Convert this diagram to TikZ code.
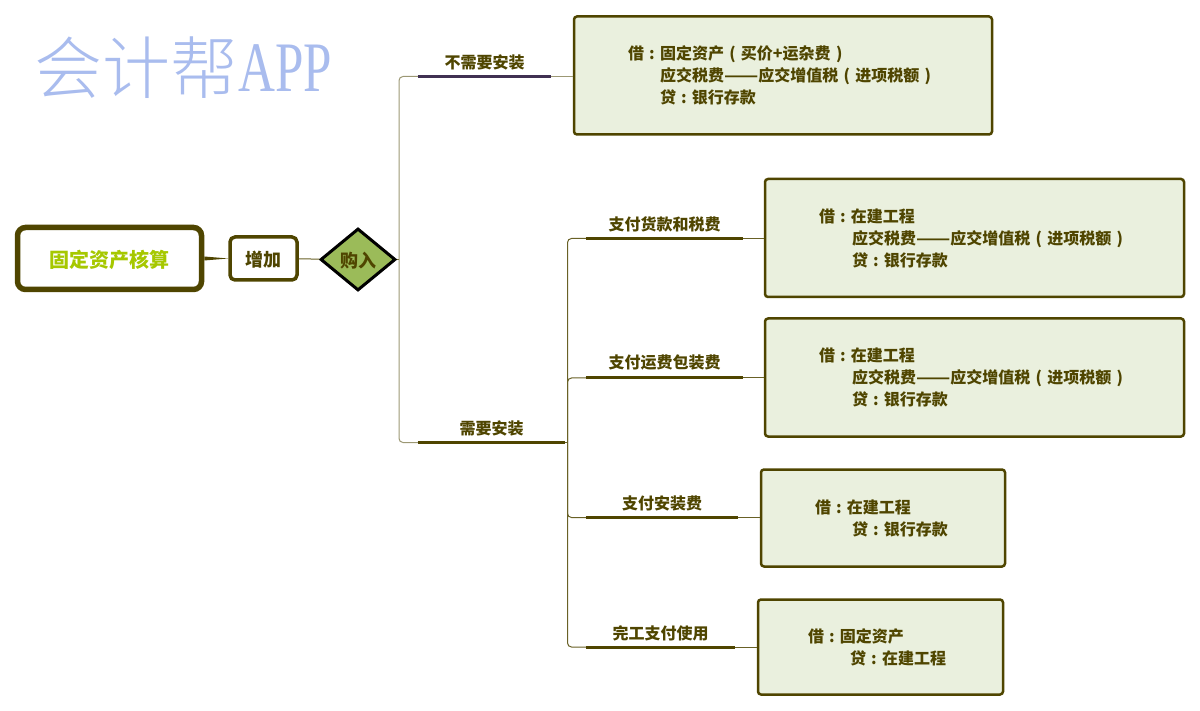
\documentclass[tikz,border=0pt]{standalone}
\usepackage{fontspec}
\setmainfont{Noto Sans CJK SC}
\newfontfamily\markfont{Noto Sans CJK SC Light}
\newfontfamily\marklatin{Liberation Serif}
\usetikzlibrary{shapes.geometric,calc}
\definecolor{olive}{HTML}{4F4500}
\definecolor{paleline}{HTML}{9C9874}
\definecolor{boxfill}{HTML}{EAF0DE}
\definecolor{leaf}{HTML}{9BBB59}
\definecolor{limetext}{HTML}{A6C800}
\definecolor{plum}{HTML}{403152}
\definecolor{markblue}{HTML}{A9BCEE}
\newcommand{\zw}[1]{\makebox[16pt]{#1}}
\newcommand{\zp}[1]{\makebox[17pt]{#1}}
\newcommand{\longdash}{\scalebox{1.25}[1]{——}}
\newcommand{\nudge}[2]{\raisebox{#1}[\height][\depth]{#2}}
\tikzset{
  rootbox/.style={draw=olive,line width=5.5pt,rounded corners=8pt,fill=white,minimum width=184pt,minimum height=62pt,inner sep=0pt,text=limetext,font=\fontsize{20}{22}\selectfont\bfseries},
  addbox/.style={draw=olive,line width=3.5pt,rounded corners=5pt,fill=white,minimum width=67pt,minimum height=43pt,inner sep=0pt,text=olive,font=\fontsize{18}{22}\selectfont\bfseries},
  choice/.style={diamond,draw=black,line width=3pt,fill=leaf,minimum width=75pt,minimum height=62pt,inner sep=0pt,text=olive,font=\fontsize{18}{22}\selectfont\bfseries},
  branch/.style={minimum height=27pt,inner sep=0pt,anchor=south,text=olive,font=\fontsize{16}{22}\selectfont\bfseries},
  entry/.style={draw=olive,line width=2.5pt,rounded corners=3pt,fill=boxfill,inner ysep=0pt,text=olive,align=left,font=\fontsize{16}{22}\selectfont\bfseries},
  thick line/.style={line width=3pt,olive},
  thin line/.style={line width=1pt,paleline},
  dark line/.style={line width=1pt,olive!85}
}
\begin{document}
\begin{tikzpicture}[x=1pt,y=-1pt]
  \useasboundingbox (0,0) rectangle (1200,711);
  \node[anchor=base west,inner sep=0pt,text=markblue,font=\fontsize{68}{70}\selectfont] (mark) at (34,94) {\markfont 会计帮\marklatin\raisebox{2pt}{\scalebox{.72}[1]{\fontsize{71}{70}\selectfont APP}}};

  \node[rootbox] (root) at (109.5,258.5) {\nudge{-1pt}{固定资产核算}};
  \node[addbox] (add) at (263.5,258.5) {\nudge{-1.5pt}{增加}};
  \node[choice] (buy) at (358,259.5) {\nudge{-1pt}{购入}};
  \coordinate (spineA) at (399,259.5);
  \coordinate (spineB) at (567.5,442.5);

  \node[branch,minimum width=133pt] (plain) at (484.5,76.5) {不需要安装};
  \node[branch,minimum width=147pt] (setup) at (491.5,442.5) {需要安装};
  \node[entry,minimum width=418pt,minimum height=118pt,text width=364pt,inner xsep=27pt] (plainbox) at (783,75.5) {
    \hspace*{27pt}借\zw{:}固定资产\zp{(}买价+运杂费\zp{)}\\
    \hspace*{59pt}应交税费\longdash 应交增值税\zp{(}进项税额\zp{)}\\
    \hspace*{59pt}贷\zw{:}银行存款};

  \fill[olive] ($(root.east)+(0,-2)$) -- (add.west) -- ($(root.east)+(0,2)$) -- cycle;
  \draw[dark line] (add) -- (buy);
  \draw[dark line] (buy) -- (spineA);
  \draw[thin line,rounded corners=4pt] (plain.south west) -| (spineA) |- (setup.south west);
  \draw[line width=3pt,plum] (plain.south west) -- (plain.south east);
  \draw[thick line] (setup.south west) -- (setup.south east);
  \draw[thin line] (plain.south east) -- (plainbox.west |- plain.south east);
  \draw[dark line] (setup.south east) -- (spineB);

  % entry boxes first, the branches below end on them
  \foreach \nm/\bx/\by/\bw/\bh/\ind/\body in {
    goods/974.5/238/419/118/34/{借\zw{:}在建工程\\\hspace*{67pt}应交税费\longdash 应交增值税\zp{(}进项税额\zp{)}\\\hspace*{67pt}贷\zw{:}银行存款},
    freight/974.5/377.5/419/118/34/{借\zw{:}在建工程\\\hspace*{67pt}应交税费\longdash 应交增值税\zp{(}进项税额\zp{)}\\\hspace*{67pt}贷\zw{:}银行存款},
    fitting/883/518/244/97/34/{借\zw{:}在建工程\\\hspace*{71pt}贷\zw{:}银行存款},
    finish/880.5/647/245/95/30/{借\zw{:}固定资产\\\hspace*{72pt}贷\zw{:}在建工程}} {
    \node[entry,minimum width=\bw pt,minimum height=\bh pt,text width=\bw pt-40pt,inner xsep=20pt] (\nm box) at (\bx,\by) {\hspace*{\ind pt}\body};
  }
  \foreach \nm/\lx/\lw/\ly/\txt in {goods/664.5/157/238.5/支付货款和税费,freight/664.5/157/378/{\nudge{1.5pt}{支付运费包装费}},fitting/662/152/517.5/支付安装费,finish/660.5/149/647/完工支付使用} {
    \node[branch,minimum width=\lw pt] (\nm) at (\lx,\ly) {\txt};
    \draw[dark line,rounded corners=4pt] (spineB) |- (\nm.south west);
    \draw[thick line] (\nm.south west) -- (\nm.south east);
    \draw[dark line] (\nm.south east) -- (\nm box.west |- \nm.south east);
  }
\end{tikzpicture}
\end{document}
